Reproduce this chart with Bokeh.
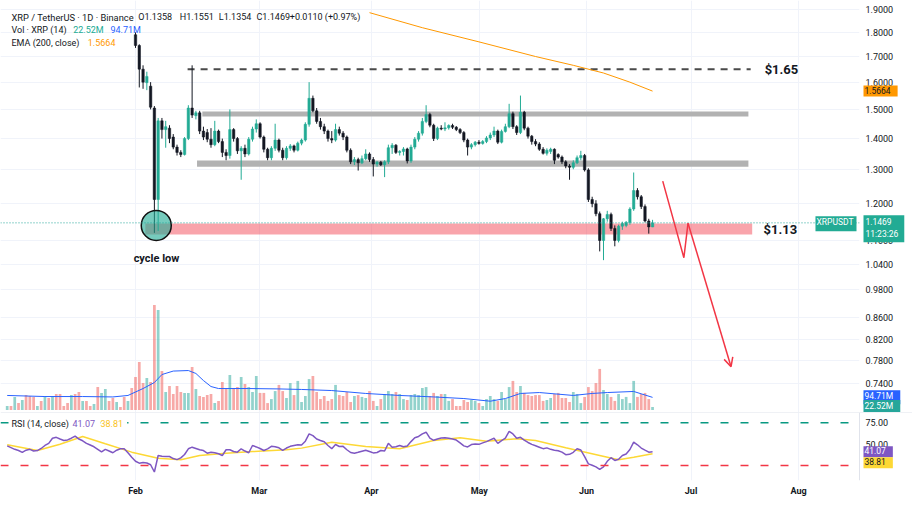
from bokeh.plotting import figure
from bokeh.models import (Range1d, LinearScale, FixedTicker, Label, Span, Arrow, OpenHead,
                          Grid, BoxAnnotation)
from bokeh.layouts import column
from bokeh.embed import file_html
from bokeh.resources import INLINE

# ---------------- data ----------------
first_candle = 34  # bar index of the first visible candle (Feb)
opens = [1.790, 1.745, 1.650, 1.598, 1.585, 1.505, 1.212, 1.460, 1.430, 1.435,
         1.405, 1.372, 1.355, 1.348, 1.400, 1.505, 1.478, 1.488, 1.425, 1.420,
         1.398, 1.380, 1.425, 1.390, 1.355, 1.345, 1.430, 1.400, 1.360, 1.368,
         1.350, 1.398, 1.432, 1.450, 1.405, 1.365, 1.338, 1.368, 1.395, 1.362,
         1.338, 1.368, 1.376, 1.362, 1.385, 1.395, 1.448, 1.540, 1.495, 1.458,
         1.440, 1.425, 1.400, 1.395, 1.430, 1.418, 1.405, 1.362, 1.325, 1.332,
         1.322, 1.335, 1.350, 1.332, 1.318, 1.324, 1.316, 1.325, 1.370, 1.378,
         1.355, 1.358, 1.366, 1.328, 1.372, 1.398, 1.418, 1.458, 1.482, 1.445,
         1.400, 1.435, 1.432, 1.436, 1.444, 1.438, 1.430, 1.420, 1.395, 1.372,
         1.380, 1.388, 1.384, 1.390, 1.402, 1.412, 1.425, 1.388, 1.424, 1.440,
         1.485, 1.440, 1.420, 1.490, 1.435, 1.408, 1.390, 1.382, 1.365, 1.352,
         1.358, 1.365, 1.348, 1.340, 1.325, 1.312, 1.308, 1.322, 1.338, 1.345,
         1.300, 1.212, 1.200, 1.172, 1.100, 1.158, 1.170, 1.132, 1.100, 1.138,
         1.140, 1.148, 1.185, 1.238, 1.220, 1.192, 1.152, 1.1358]
highs = [1.800, 1.750, 1.665, 1.640, 1.600, 1.512, 1.470, 1.470, 1.460, 1.445,
         1.415, 1.380, 1.362, 1.405, 1.515, 1.665, 1.495, 1.495, 1.440, 1.432,
         1.435, 1.460, 1.430, 1.400, 1.365, 1.500, 1.435, 1.405, 1.375, 1.380,
         1.405, 1.440, 1.465, 1.455, 1.410, 1.370, 1.375, 1.450, 1.400, 1.370,
         1.375, 1.382, 1.380, 1.390, 1.400, 1.455, 1.600, 1.550, 1.505, 1.470,
         1.450, 1.430, 1.425, 1.450, 1.440, 1.425, 1.410, 1.368, 1.340, 1.338,
         1.345, 1.365, 1.355, 1.340, 1.328, 1.328, 1.330, 1.380, 1.385, 1.382,
         1.362, 1.372, 1.370, 1.380, 1.405, 1.425, 1.470, 1.515, 1.488, 1.450,
         1.440, 1.445, 1.455, 1.448, 1.450, 1.442, 1.435, 1.425, 1.400, 1.385,
         1.392, 1.395, 1.395, 1.408, 1.420, 1.440, 1.430, 1.430, 1.450, 1.520,
         1.492, 1.445, 1.550, 1.495, 1.440, 1.412, 1.398, 1.388, 1.372, 1.368,
         1.370, 1.368, 1.352, 1.345, 1.330, 1.318, 1.330, 1.345, 1.360, 1.350,
         1.305, 1.220, 1.210, 1.178, 1.160, 1.180, 1.175, 1.140, 1.142, 1.150,
         1.152, 1.190, 1.292, 1.245, 1.225, 1.198, 1.158, 1.1551]
lows = [1.735, 1.580, 1.575, 1.570, 1.500, 1.120, 1.125, 1.400, 1.370, 1.385,
        1.365, 1.345, 1.340, 1.345, 1.395, 1.470, 1.465, 1.415, 1.395, 1.388,
        1.370, 1.375, 1.385, 1.340, 1.330, 1.335, 1.390, 1.350, 1.270, 1.340,
        1.345, 1.390, 1.420, 1.400, 1.355, 1.330, 1.330, 1.360, 1.355, 1.330,
        1.332, 1.360, 1.355, 1.358, 1.378, 1.390, 1.440, 1.490, 1.450, 1.430,
        1.415, 1.390, 1.385, 1.390, 1.410, 1.395, 1.355, 1.318, 1.315, 1.298,
        1.318, 1.330, 1.325, 1.280, 1.310, 1.312, 1.278, 1.318, 1.350, 1.350,
        1.345, 1.345, 1.320, 1.322, 1.365, 1.390, 1.410, 1.452, 1.438, 1.392,
        1.395, 1.428, 1.425, 1.430, 1.432, 1.425, 1.415, 1.388, 1.345, 1.365,
        1.374, 1.380, 1.380, 1.385, 1.395, 1.405, 1.382, 1.384, 1.420, 1.435,
        1.432, 1.412, 1.415, 1.428, 1.400, 1.380, 1.375, 1.360, 1.348, 1.345,
        1.350, 1.318, 1.335, 1.318, 1.305, 1.270, 1.302, 1.318, 1.330, 1.295,
        1.205, 1.190, 1.165, 1.072, 1.050, 1.150, 1.125, 1.085, 1.095, 1.128,
        1.135, 1.142, 1.180, 1.212, 1.185, 1.148, 1.118, 1.1354]
closes = [1.745, 1.650, 1.600, 1.622, 1.508, 1.212, 1.460, 1.430, 1.440, 1.400,
          1.372, 1.355, 1.348, 1.400, 1.505, 1.480, 1.488, 1.425, 1.405, 1.398,
          1.380, 1.425, 1.390, 1.355, 1.345, 1.430, 1.400, 1.360, 1.368, 1.350,
          1.398, 1.432, 1.450, 1.405, 1.365, 1.338, 1.368, 1.395, 1.362, 1.338,
          1.368, 1.376, 1.362, 1.385, 1.395, 1.448, 1.540, 1.495, 1.458, 1.440,
          1.425, 1.400, 1.395, 1.430, 1.418, 1.405, 1.362, 1.325, 1.332, 1.322,
          1.335, 1.350, 1.332, 1.318, 1.324, 1.316, 1.325, 1.370, 1.378, 1.355,
          1.358, 1.366, 1.328, 1.372, 1.398, 1.418, 1.458, 1.482, 1.445, 1.400,
          1.435, 1.432, 1.436, 1.444, 1.438, 1.430, 1.420, 1.395, 1.372, 1.380,
          1.388, 1.384, 1.390, 1.402, 1.412, 1.425, 1.388, 1.424, 1.440, 1.485,
          1.440, 1.420, 1.490, 1.435, 1.408, 1.390, 1.382, 1.365, 1.352, 1.362,
          1.365, 1.330, 1.340, 1.325, 1.312, 1.308, 1.322, 1.338, 1.345, 1.300,
          1.212, 1.200, 1.172, 1.100, 1.158, 1.170, 1.132, 1.100, 1.138, 1.145,
          1.148, 1.185, 1.238, 1.220, 1.192, 1.152, 1.136, 1.1469]

# volume (millions) for every bar, bar 0 = first bar on the left
volume = [30, 30, 98, 52, 75, 112, 105, 98, 30, 68, 98, 90, 105, 120, 120, 30, 52, 112, 120, 135,
          68, 68, 30, 45, 172, 128, 158, 68, 90, 60, 22, 98, 68, 165, 248, 360, 202, 240, 210, 788,
          750, 292, 135, 180, 120, 180, 135, 128, 128, 322, 158, 105, 98, 112, 120, 52, 68, 210, 158, 262,
          165, 172, 248, 195, 172, 135, 255, 128, 128, 52, 82, 142, 188, 142, 90, 202, 112, 218, 60, 105,
          232, 255, 135, 82, 105, 68, 82, 188, 112, 105, 135, 60, 105, 112, 98, 90, 142, 68, 30, 82,
          120, 142, 120, 135, 120, 82, 75, 112, 120, 112, 165, 172, 105, 128, 105, 120, 120, 68, 82, 30,
          30, 75, 60, 75, 68, 52, 30, 82, 105, 82, 68, 135, 82, 172, 218, 135, 180, 128, 112, 105,
          112, 112, 68, 75, 90, 120, 128, 90, 90, 60, 135, 120, 52, 98, 172, 142, 202, 308, 150, 120,
          98, 68, 120, 82, 98, 52, 218, 98, 120, 128, 82, 22.52]
# direction of the bars before the first visible candle (1 = up day)
early_up = [1, 0, 1, 0, 1, 0, 0, 0, 1, 0, 1, 0, 1, 0, 0, 0, 0, 1, 0, 0,
            1, 0, 0, 1, 0, 1, 1, 0, 0, 1, 0, 0, 1, 0]
vol_ma_idx = [0, 10, 20, 28, 32, 36, 39, 41, 44, 48, 50, 52, 54, 56, 64, 72, 78, 86, 95, 104,
              113, 121, 128, 132, 136, 141, 150, 155, 159, 166, 171]
vol_ma = [109, 101, 101, 98, 109, 161, 206, 266, 292, 296, 274, 221, 176, 161, 161, 158, 154, 146, 124, 109,
          98, 86, 66, 86, 124, 131, 109, 124, 131, 139, 94.71]

rsi = [48, 46, 44, 42.6, 40.5, 43, 44, 42, 42.5, 45,
       48.5, 51, 57, 58, 56, 54.3, 55, 57, 59.5, 56,
       54, 51, 49, 47, 44, 41, 44, 42, 40, 43,
       44.6, 44.6, 40, 34.8, 30.1, 27.8, 28.5, 28, 26, 17.5,
       36.8, 35.8, 35.6, 35.6, 33.2, 32, 34, 38, 44.6, 46.5,
       45, 43.5, 42.6, 39.5, 40.5, 40, 38.8, 36.8, 43.5, 43.5,
       41.5, 40.7, 44.6, 42, 40, 48.5, 46.8, 45, 42.6, 44.6,
       47.5, 47, 45.8, 42.8, 45.5, 47.5, 48.5, 49.3, 49, 53.5,
       62, 60, 56, 54.3, 52.8, 48.5, 44.8, 49.6, 47.3, 47.5,
       43.5, 40.3, 39.5, 40.5, 41.8, 43, 41.5, 39.8, 40.3, 42.6,
       42, 51, 46.5, 47, 48.5, 47, 48, 53, 57.5, 59,
       62, 64, 57, 54.5, 56, 57.3, 57.5, 57, 56, 54.8,
       51.5, 48, 46.8, 49.6, 50.3, 49.8, 51.5, 53, 55, 57,
       51, 54.2, 57, 65, 62, 57, 58, 54.8, 52, 49.8,
       48.2, 46.5, 44.8, 45.7, 44, 43, 42.3, 40.7, 37.8, 38.2,
       40.5, 44.6, 43.2, 35.5, 27, 25.4, 23.5, 20.5, 23.5, 30,
       34.2, 31, 32.5, 36.8, 38.5, 43.8, 52.3, 49.3, 45.5, 43,
       40.7, 41.07]
rsi_ma_idx = [0, 8, 14, 20, 26, 33, 40, 46, 51, 58, 65, 74, 78, 86, 95, 104, 113, 120, 127, 135,
              140, 148, 157, 162, 166, 171]
rsi_ma = [49.3, 42.6, 50, 59, 50.5, 40.7, 33.7, 31.8, 36.8, 39.5, 41.4, 43.4, 45.4, 52.3, 47.3, 44.6,
          54.3, 57.5, 53.5, 56.3, 54.3, 45.8, 36.8, 31.8, 34.8, 38.81]
rsi_levels = [75, 25]
rsi_ticks = [75, 50]
rsi_tick_labels = ["75.00", "50.00"]

ema_idx = [96, 110, 125, 140, 150, 158, 165, 171]
ema = [1.886, 1.82, 1.76, 1.70, 1.665, 1.635, 1.60, 1.5664]

price_ticks = [1.9, 1.8, 1.7, 1.6, 1.5, 1.4, 1.3, 1.2, 1.1, 1.04, 0.98, 0.9168, 0.8702, 0.828, 0.7842]
price_tick_labels = ["1.9000", "1.8000", "1.7000", "1.6000", "1.5000", "1.4000", "1.3000", "1.2000",
                     "1.1000", "1.0400", "0.9800", "0.8600", "0.8200", "0.7800", "0.7400"]
month_ticks = [34.0, 66.8, 96.5, 125.1, 153.5, 181.2, 209.7]
month_labels = ["Feb", "Mar", "Apr", "May", "Jun", "Jul", "Aug"]

# drawings on the chart (bar index, price)
gray_zone_start = [51.7, 50.3]
gray_zone_end = [196.4, 196.4]
gray_zone_low = [1.475, 1.310]
gray_zone_high = [1.493, 1.329]
support_zone = (36.6, 197.4, 1.1157, 1.145)
resistance_line = (47.8, 197.0, 1.65)
cycle_low = (39.5, 1.14)
arrow_idx = [173.7, 179.3, 180.4, 191.8]
arrow_price = [1.266, 1.056, 1.146, 0.816]
last_close = 1.1469
last_vol = 22.52
last_vol_ma = 94.71
last_ema = 1.5664
last_rsi = 41.07
last_rsi_ma = 38.81

# ---------------- styling ----------------
FONT = "Roboto"
TXT = "#131722"
UP = "#22ab94"
DOWN = "#131722"
VUP = "#26a69a"
VDN = "#ef5350"
GRID = "#f0f3fa"
RED = "#f23645"
PANE_W = 859      # width of the chart panes, the price scale is to the right of it
SCALE_X = 865     # left edge of the price-scale texts

n = len(volume)
cx = list(range(first_candle, first_candle + len(closes)))
up = [c >= o for o, c in zip(opens, closes)]
vol_up = early_up + [1 if u else 0 for u in up]
vx = list(range(n))
X_RANGE = Range1d(-1.775, 239.88)


def lab(plot, x, y, text, size="9px", color=TXT, style="normal", xu="data", yu="data", **kw):
    plot.add_layout(Label(x=x, y=y, x_units=xu, y_units=yu, text=text, text_font=FONT,
                          text_font_size=size, text_color=color, text_font_style=style,
                          text_baseline=kw.pop("baseline", "middle"),
                          text_align=kw.pop("align", "left"), **kw))


def box(plot, y, text, bg, fg="white", rng="default", yoff=0, x=SCALE_X - 2, align="left",
        pad=(1, 7, 1, 3)):
    plot.add_layout(Label(x=x, y=y, x_units="screen", y_units="data", y_range_name=rng,
                          text=text, text_font=FONT, text_font_size="8.5px", text_color=fg,
                          text_baseline="middle", text_align=align, y_offset=yoff,
                          background_fill_color=bg, padding=pad))


p = figure(frame_width=912, frame_height=412, x_range=X_RANGE, y_range=Range1d(0.7322, 1.941),
           y_axis_type="log", y_axis_location=None, x_axis_location=None,
           min_border_left=0, min_border_right=0, min_border_top=0, min_border_bottom=0,
           toolbar_location=None, output_backend="svg",
           extra_y_ranges={"vol": Range1d(-18.75, 3071.25)},
           extra_y_scales={"vol": LinearScale()})
p.outline_line_color = None
p.background_fill_color = "white"
p.border_fill_color = "white"
for g in p.grid:
    g.visible = False
p.add_layout(Grid(dimension=1, ticker=FixedTicker(ticks=price_ticks), grid_line_color=GRID))
p.add_layout(Grid(dimension=0, ticker=FixedTicker(ticks=month_ticks), grid_line_color=GRID))
p.add_layout(BoxAnnotation(left=PANE_W, left_units="screen", fill_color="white", fill_alpha=1,
                           line_color=None, level="underlay"))

# volume
vcol = [VUP if u else VDN for u in vol_up]
p.vbar(x=vx, top=volume, bottom=0, width=0.72, fill_color=vcol, line_color=None,
       fill_alpha=0.5, y_range_name="vol")
p.line(vol_ma_idx, vol_ma, line_color="#2962ff", line_width=1, y_range_name="vol")

# zones
p.quad(left=gray_zone_start, right=gray_zone_end, bottom=gray_zone_low, top=gray_zone_high,
       fill_color="#b2b2b2", line_color=None)
p.quad(left=[support_zone[0]], right=[support_zone[1]], bottom=[support_zone[2]], top=[support_zone[3]],
       fill_color=RED, fill_alpha=0.45, line_color=None)
p.line([resistance_line[0], resistance_line[1]], [resistance_line[2]] * 2,
       line_color="#4a4a4a", line_width=2, line_dash="7 6")

# EMA
p.line(ema_idx, ema, line_color="#ff9800", line_width=1)

# candles
ccol = [UP if u else DOWN for u in up]
p.segment(x0=cx, y0=highs, x1=cx, y1=lows, line_color=ccol, line_width=1)
p.vbar(x=cx, top=[max(o, c) for o, c in zip(opens, closes)],
       bottom=[min(o, c) for o, c in zip(opens, closes)],
       width=0.65, fill_color=ccol, line_color=ccol, line_width=0.5)

# last price line
p.add_layout(Span(location=last_close, dimension="width", line_color=VUP, line_width=1,
                  line_dash="1 2"))

# cycle low circle
p.scatter([cycle_low[0]], [cycle_low[1]], marker="circle", size=30, fill_color=UP,
          fill_alpha=0.62, line_color="#111111", line_width=1.5)

# red projection arrow
p.line(arrow_idx[:3], arrow_price[:3], line_color=RED, line_width=1.5)
p.add_layout(Arrow(end=OpenHead(size=9, line_color=RED, line_width=1.5),
                   x_start=arrow_idx[2], y_start=arrow_price[2],
                   x_end=arrow_idx[3], y_end=arrow_price[3],
                   line_color=RED, line_width=1.5))

# white strip for the price scale (covers the price line there)
p.add_layout(BoxAnnotation(left=PANE_W, left_units="screen", fill_color="white", fill_alpha=1,
                           line_color=None))

# chart texts
lab(p, 200.7, 1.65, "$1.65", size="13px", style="bold")
lab(p, 200.4, 1.13, "$1.13", size="13px", style="bold")
lab(p, 33.5, 1.054, "cycle low", size="11px", style="bold")

# legend header (screen units, from frame bottom-left)
H = 412
lab(p, 11, H - 16.7, "XRP / TetherUS  ·  1D  ·  Binance", size="9.3px", xu="screen", yu="screen")
for xx, t in [(137.7, "O1.1358"), (179.3, "H1.1551"), (218.3, "L1.1354"), (256, "C1.1469"),
              (289.3, "+0.0110 (+0.97%)")]:
    lab(p, xx, H - 16.7, t, xu="screen", yu="screen")
lab(p, 11, H - 29.3, "Vol  ·  XRP (14)", xu="screen", yu="screen")
lab(p, 72.7, H - 29.3, f"{last_vol:.2f}M", color=UP, xu="screen", yu="screen")
lab(p, 110, H - 29.3, f"{last_vol_ma:.2f}M", color="#2962ff", xu="screen", yu="screen")
lab(p, 11, H - 42, "EMA (200, close)", xu="screen", yu="screen")
lab(p, 87.3, H - 42, f"{last_ema:.4f}", color="#ff9800", xu="screen", yu="screen")

# price scale
for t, l in zip(price_ticks, price_tick_labels):
    lab(p, SCALE_X, t, l, xu="screen")
box(p, last_ema, f"{last_ema:.4f}", "#ff9800", fg=TXT)
box(p, last_close, f"{last_close:.4f}\n11:23:26", "#22ab94", yoff=-6, pad=(2, 6, 2, 3))
box(p, last_close, "XRPUSDT", "#22ab94", x=PANE_W - 3, align="right", yoff=-1, pad=(1, 3, 1, 4))
box(p, last_vol_ma, f"{last_vol_ma:.2f}M", "#2962ff", rng="vol")
box(p, last_vol, f"{last_vol:.2f}M", "#26a69a", rng="vol")

# ---------------- RSI pane ----------------
q = figure(frame_width=912, frame_height=68, x_range=X_RANGE, y_range=Range1d(7.6, 87.0),
           y_axis_location=None, min_border_left=0, min_border_right=0,
           min_border_top=0, min_border_bottom=33, toolbar_location=None, output_backend="svg")
q.outline_line_color = None
q.background_fill_color = "white"
q.border_fill_color = "white"
xa = q.xaxis[0]
xa.ticker = FixedTicker(ticks=month_ticks)
xa.major_label_overrides = {t: l for t, l in zip(month_ticks, month_labels)}
xa.axis_line_color = None
xa.major_tick_line_color = None
xa.minor_tick_line_color = None
xa.major_tick_out = 0
xa.major_tick_in = 0
xa.minor_tick_out = 0
xa.major_label_text_font = FONT
xa.major_label_text_font_size = "9px"
xa.major_label_text_font_style = "bold"
xa.major_label_text_color = TXT
xa.major_label_standoff = 5
for g in q.grid:
    g.visible = False
q.add_layout(Grid(dimension=0, ticker=FixedTicker(ticks=month_ticks), grid_line_color=GRID))

q.add_layout(Span(location=rsi_levels[0], dimension="width", line_color="#089981", line_width=1.5,
                  line_dash="8 12"))
q.add_layout(Span(location=rsi_levels[1], dimension="width", line_color=RED, line_width=1.5,
                  line_dash="8 12"))
q.line(rsi_ma_idx, rsi_ma, line_color="#fdd835", line_width=1.5)
q.line(vx, rsi, line_color="#7e57c2", line_width=1.5)

q.add_layout(BoxAnnotation(left=PANE_W, left_units="screen", fill_color="white", fill_alpha=1,
                           line_color=None))
q.add_layout(Span(location=PANE_W, location_units="screen", dimension="height",
                  line_color="#e0e3eb", line_width=1))
q.add_layout(Span(location=q.y_range.end, dimension="width", line_color="#e0e3eb", line_width=1))

RH = 68
for xx, t, c in [(11, "RSI (14, close)", TXT), (72, f"{last_rsi:.2f}", "#7e57c2"),
                 (100, f"{last_rsi_ma:.2f}", "#f9c21a")]:
    q.add_layout(Label(x=xx, y=RH - 12, x_units="screen", y_units="screen", text=t,
                       text_font=FONT, text_font_size="9px", text_color=c, text_baseline="middle",
                       background_fill_color="white", padding=(0, 4, 0, 2)))
for t, l in zip(rsi_ticks, rsi_tick_labels):
    lab(q, SCALE_X, t, l, xu="screen")
box(q, last_rsi, f"{last_rsi:.2f}", "#7e57c2")
box(q, last_rsi_ma, f"{last_rsi_ma:.2f}", "#fdd835", fg=TXT, yoff=-9)

layout = column(p, q, spacing=0)
open("out.html", "w").write(file_html(layout, INLINE))
